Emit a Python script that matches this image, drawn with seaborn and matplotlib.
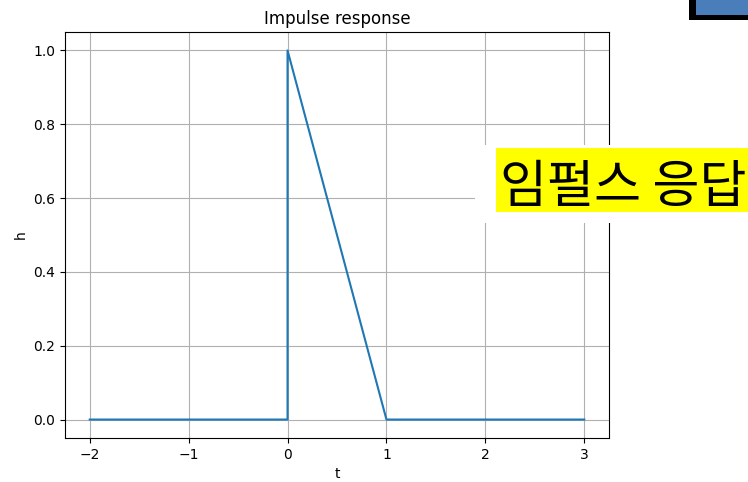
import matplotlib
matplotlib.use("Agg")
import matplotlib.pyplot as plt
from matplotlib.patches import Rectangle
import seaborn as sns
import pandas as pd

# Impulse response h(t): zero before 0, ramps down from 1 to 0 over [0, 1], zero after
t_values = [-2.0, 0.0, 0.0, 1.0, 3.0]
h_values = [0.0, 0.0, 1.0, 0.0, 0.0]
title_text = "Impulse response"
x_label = "t"
y_label = "h"
note_text = "임펄스 응답"

W, H = 748, 482
fig = plt.figure(figsize=(W / 100, H / 100), dpi=100)
ax = fig.add_axes([65 / W, 44 / H, 544 / W, 406 / H])

df = pd.DataFrame({"t": t_values, "h": h_values})
sns.lineplot(data=df, x="t", y="h", ax=ax, estimator=None, sort=False,
             color="#1f77b4", linewidth=1.5)

ax.set_xlim(-2.25, 3.25)
ax.set_ylim(-0.05, 1.05)
ax.set_xticks([-2, -1, 0, 1, 2, 3])
ax.set_yticks([0.0, 0.2, 0.4, 0.6, 0.8, 1.0])
ax.grid(True, color="#b0b0b0", linewidth=0.8)
ax.set_title(title_text, fontsize=12)
ax.set_xlabel(x_label)
ax.set_ylabel(y_label)


def px_rect(x0, y0, x1, y1, **kw):
    """Rectangle given in figure pixel coordinates (origin top-left)."""
    return Rectangle((x0 / W, 1 - y1 / H), (x1 - x0) / W, (y1 - y0) / H,
                     transform=fig.transFigure, figure=fig, clip_on=False, **kw)


# White backing and yellow label box on the right
fig.patches.append(px_rect(475, 145, 760, 223, facecolor="white", edgecolor="none", zorder=5))
fig.patches.append(px_rect(496, 148, 760, 212, facecolor="#ffff00", edgecolor="none", zorder=6))
fig.text(500 / W, 1 - 202 / H, note_text, fontsize=36.8, va="baseline", ha="left",
         family=["Noto Sans CJK KR", "DejaVu Sans"], color="black", zorder=7)

# Blue marker box in the top-right corner
fig.patches.append(px_rect(689, -20, 770, 20, facecolor="black", edgecolor="none", zorder=5))
fig.patches.append(px_rect(696, -20, 770, 15, facecolor="#4a7ebb", edgecolor="none", zorder=6))

fig.savefig("out.png", dpi=100)
